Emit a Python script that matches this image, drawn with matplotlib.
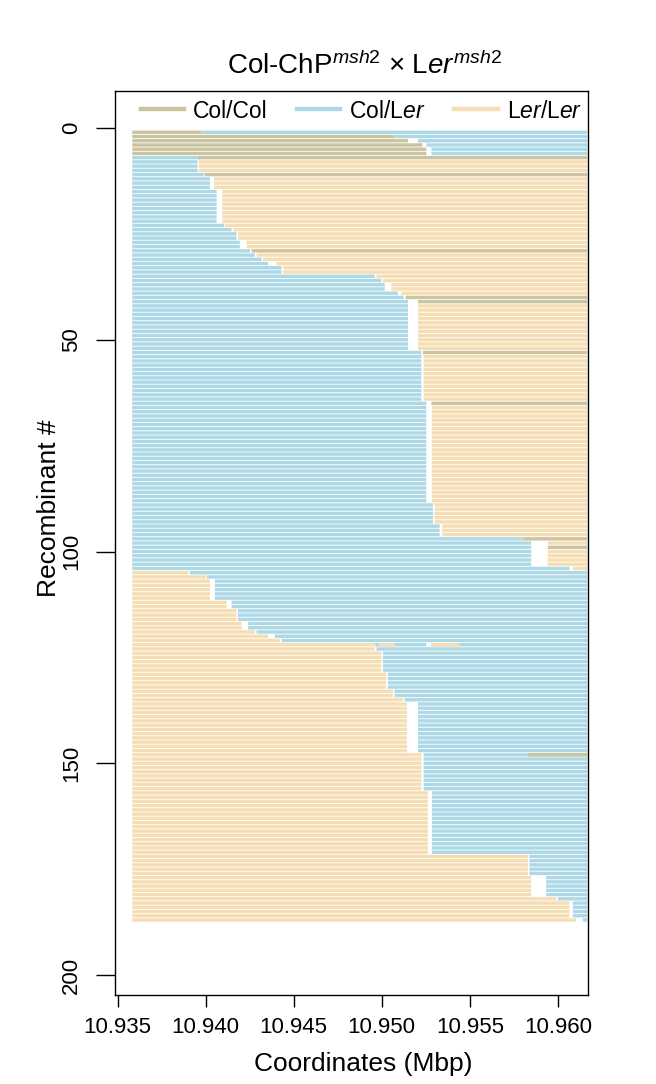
import numpy as np
import matplotlib
matplotlib.use("Agg")
import matplotlib.pyplot as plt
from matplotlib.lines import Line2D

plt.rcParams['font.family'] = ['Liberation Sans', 'DejaVu Sans']
plt.rcParams['mathtext.fontset'] = 'custom'
plt.rcParams['mathtext.rm'] = 'Liberation Sans'
plt.rcParams['mathtext.it'] = 'Liberation Sans:italic'

# marker interval covered by every recombinant (Mbp)
region_start = 10.93583
region_end = 10.96167

# runs of consecutive recombinants sharing the same crossover interval
block_rows = [1, 1, 1, 1, 2, 1, 3, 1, 3, 8,
              1, 1, 2, 2, 1, 1, 1, 1, 2, 1,
              1, 2, 1, 1, 1, 11, 1, 11, 1, 23,
              5, 3, 1, 1, 1, 4, 1, 1, 1, 5,
              2, 3, 2, 1, 1, 1, 1, 1, 5, 4,
              2, 1, 12, 9, 15, 5, 5, 1, 4, 1]
block_left = ['CC', 'CC', 'CC', 'CC', 'CC', 'CL', 'CL', 'CL', 'CL', 'CL',
              'CL', 'CL', 'CL', 'CL', 'CL', 'CL', 'CL', 'CL', 'CL', 'CL',
              'CL', 'CL', 'CL', 'CL', 'CL', 'CL', 'CL', 'CL', 'CL', 'CL',
              'CL', 'CL', 'CL', 'CL', 'CL', 'CL', 'CL', 'LL', 'LL', 'LL',
              'LL', 'LL', 'LL', 'LL', 'LL', 'LL', 'LL', 'LL', 'LL', 'LL',
              'LL', 'LL', 'LL', 'LL', 'LL', 'LL', 'LL', 'LL', 'LL', 'LL']
block_left_end = [10.93977, 10.95073, 10.95149, 10.95231, 10.95253,
                  10.93954, 10.93954, 10.93991, 10.94024, 10.94062,
                  10.94105, 10.94147, 10.94175, 10.94194, 10.94251,
                  10.94279, 10.94317, 10.94355, 10.94431, 10.94960,
                  10.94998, 10.95017, 10.95092, 10.95124, 10.95149,
                  10.95149, 10.95225, 10.95225, 10.95253, 10.95253,
                  10.95291, 10.95329, 10.95801, 10.95849, 10.95849,
                  10.95849, 10.96066, 10.93901, 10.94001, 10.94024,
                  10.94118, 10.94175, 10.94204, 10.94279, 10.94355,
                  10.94421, 10.94963, 10.94960, 10.94998, 10.95026,
                  10.95064, 10.95121, 10.95143, 10.95225, 10.95262,
                  10.95830, 10.95849, 10.95991, 10.96066, 10.96104]
block_right_start = [10.93977, 10.95073, 10.95206, 10.95253, 10.95282,
                     10.93954, 10.93961, 10.93995, 10.94048, 10.94094,
                     10.94109, 10.94156, 10.94184, 10.94232, 10.94260,
                     10.94289, 10.94326, 10.94402, 10.94440, 10.94970,
                     10.95007, 10.95055, 10.95111, 10.95136, 10.95206,
                     10.95206, 10.95234, 10.95238, 10.95282, 10.95285,
                     10.95300, 10.95344, 10.95801, 10.95943, 10.95943,
                     10.95943, 10.96085, 10.93910, 10.94007, 10.94052,
                     10.94147, 10.94183, 10.94241, 10.94289, 10.94393,
                     10.94431, 10.94963, 10.94970, 10.95007, 10.95035,
                     10.95073, 10.95130, 10.95206, 10.95238, 10.95285,
                     10.95839, 10.95934, 10.96000, 10.96085, 10.96142]
block_right = ['CL', 'CL', 'CL', 'CL', 'CL', 'CC', 'LL', 'CC', 'LL', 'LL',
               'LL', 'LL', 'LL', 'LL', 'CC', 'LL', 'LL', 'LL', 'LL', 'LL',
               'LL', 'LL', 'LL', 'CC', 'CC', 'LL', 'CC', 'LL', 'CC', 'LL',
               'LL', 'LL', 'CC', 'LL', 'CC', 'LL', 'LL', 'CL', 'CL', 'CL',
               'CL', 'CL', 'CL', 'CL', 'CL', 'CL', 'CL', 'CL', 'CL', 'CL',
               'CL', 'CL', 'CL', 'CL', 'CL', 'CL', 'CL', 'CL', 'CL', 'CL']

# extra tracts (double crossovers etc.) drawn on top of the rows
extra_row = [122, 122, 122, 148]
extra_start = [10.94983, 10.95253, 10.95282, 10.95830]
extra_end = [10.95076, 10.95282, 10.95442, 10.96167]
extra_geno = ['LL', 'gap', 'LL', 'CC']

geno_colors = {'CC': '#CBC4A0', 'CL': '#ADD8E6', 'LL': '#F5DEB3', 'gap': 'white'}
legend_keys = ['CC', 'CL', 'LL']
legend_labels = ['Col/Col', r'Col/L$\mathit{er}$', r'L$\mathit{er}$/L$\mathit{er}$']

rows = np.arange(1, sum(block_rows) + 1)
left_geno = np.repeat(block_left, block_rows)
left_end = np.repeat(block_left_end, block_rows)
right_start = np.repeat(block_right_start, block_rows)
right_geno = np.repeat(block_right, block_rows)

fig = plt.figure(figsize=(6.56, 10.84), dpi=100)
ax = fig.add_axes([0.1753, 0.0821, 0.7206, 0.8342])

BAR_H = 0.8
bar_kw = dict(height=BAR_H, linewidth=0, snap=False)
for g in ['CC', 'CL', 'LL']:
    m = left_geno == g
    ax.barh(rows[m], left_end[m] - region_start, left=region_start,
            color=geno_colors[g], **bar_kw)
    m = right_geno == g
    ax.barh(rows[m], region_end - right_start[m], left=right_start[m],
            color=geno_colors[g], **bar_kw)

for r, s, e, g in zip(extra_row, extra_start, extra_end, extra_geno):
    ax.barh(r, e - s, left=s, color=geno_colors[g], **bar_kw)

ax.set_xlim(10.934847, 10.96170)
ax.set_ylim(204.72, -8.81)

xt = [10.935, 10.940, 10.945, 10.950, 10.955, 10.960]
ax.set_xticks(xt)
ax.set_xticklabels(['%.3f' % v for v in xt])
ax.set_yticks([0, 50, 100, 150, 200])
ax.tick_params(axis='x', length=8.6, width=1, pad=7, labelsize=16)
ax.tick_params(axis='y', length=13.7, width=1, pad=10, labelsize=16)
plt.setp(ax.get_yticklabels(), rotation=90, va='center')
for sp in ax.spines.values():
    sp.set_linewidth(1)

handles = [Line2D([], [], color=geno_colors[k], lw=3.2) for k in legend_keys]
fig.legend(handles, legend_labels, loc='center', bbox_to_anchor=(0.551, 0.8976),
           ncol=3, frameon=False, fontsize=16.5, handlelength=1.9,
           handletextpad=0.4, columnspacing=1.25)

fig.text(0.5562, 0.9398, r'Col-ChP$^{\mathit{msh2}}$ × L$\mathit{er}^{\mathit{msh2}}$',
         ha='center', va='center', fontsize=20)
fig.text(0.553, 0.0185, 'Coordinates (Mbp)', ha='center', va='center', fontsize=19)
fig.text(0.0747, 0.531, 'Recombinant #', ha='center', va='center',
         rotation=90, fontsize=19)

fig.savefig('out.png', dpi=100)
